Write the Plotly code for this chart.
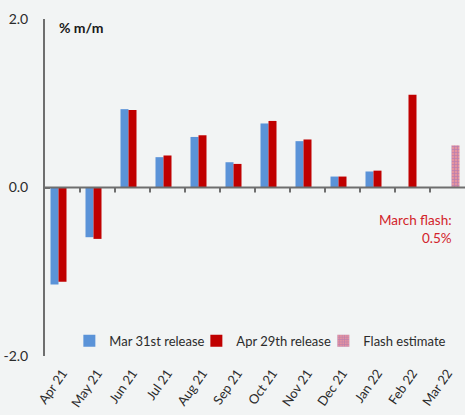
import plotly.graph_objects as go

months = ["Apr 21", "May 21", "Jun 21", "Jul 21", "Aug 21", "Sep 21",
          "Oct 21", "Nov 21", "Dec 21", "Jan 22", "Feb 22", "Mar 22"]
mar31 = [-1.15, -0.59, 0.93, 0.36, 0.60, 0.30, 0.76, 0.55, 0.13, 0.19, None, None]
apr29 = [-1.12, -0.61, 0.92, 0.38, 0.62, 0.28, 0.79, 0.57, 0.13, 0.20, 1.10, None]
flash = [None, None, None, None, None, None, None, None, None, None, None, 0.5]
y_ticks = [-2.0, 0.0, 2.0]

BG = "#F2F4F4"
TXT = "#2B2B2B"
AXIS = "#6E6E6E"
FONT = "Lato"
x_range = [-0.5, len(months) - 0.5]
y_range = [-2, 2]
tick_len = 0.06  # in data units (~5 px)

fig = go.Figure()
fig.add_trace(go.Bar(x=months, y=mar31, name="Mar 31st release",
                     marker=dict(color="#5B93D8", line=dict(width=0))))
fig.add_trace(go.Bar(x=months, y=apr29, name="Apr 29th release",
                     marker=dict(color="#C00000", line=dict(width=0))))
fig.add_trace(go.Bar(x=months, y=flash, name="Flash estimate",
                     marker=dict(color="#E4939F", line=dict(width=0),
                                 pattern=dict(shape="+", fgcolor="#8A68C0",
                                              bgcolor="#E4939F", size=3, solidity=0.4))))

# horizontal axis line at y = 0
axis_shapes = [dict(type="line", xref="paper", yref="y", x0=0, x1=1, y0=0, y1=0,
                    layer="above", line=dict(color=AXIS, width=2))]
# category-boundary tick marks hanging below the zero line
axis_shapes += [
    dict(type="line", xref="x", yref="y",
         x0=i - 0.5, x1=i - 0.5, y0=0, y1=-tick_len, layer="above",
         line=dict(color=AXIS, width=2))
    for i in range(1, len(months))
]

fig.update_layout(
    width=465, height=415,
    margin=dict(l=45, r=0, t=19, b=59),
    paper_bgcolor=BG, plot_bgcolor=BG,
    barmode="group", bargap=0.314, bargroupgap=0,
    font=dict(family=FONT, size=13, color=TXT),
    showlegend=True,
    legend=dict(orientation="h", x=0.058, xanchor="left", y=0.045, yanchor="middle",
                bgcolor="rgba(0,0,0,0)", font=dict(size=13, color=TXT),
                entrywidth=82, entrywidthmode="pixels",
                itemwidth=30, tracegroupgap=0),
    xaxis=dict(type="category", categoryorder="array", categoryarray=months,
               range=x_range,
               showline=False, ticks="", tickangle=-55, showgrid=False,
               zeroline=False, ticklabelstandoff=6,
               tickfont=dict(size=13, color=TXT)),
    yaxis=dict(range=y_range, tickvals=y_ticks, ticktext=[f"{v:.1f}" for v in y_ticks],
               showline=True, linecolor=AXIS, linewidth=2,
               ticks="inside", ticklen=5, tickwidth=2, tickcolor=AXIS,
               showgrid=False, zeroline=False,
               ticklabelstandoff=12,
               tickfont=dict(size=14, color=TXT)),
    shapes=axis_shapes,
    annotations=[
        dict(text="<b>% m/m</b>", xref="paper", yref="paper", x=0.028, y=0.975,
             xanchor="left", yanchor="middle", showarrow=False,
             font=dict(size=14, color="#1A1A1A")),
        dict(text="March flash:<br>0.5%", xref="paper", yref="paper",
             x=0.973, y=0.432, xanchor="right", yanchor="top", align="right",
             showarrow=False, font=dict(size=13.5, color="#D2232A")),
    ],
)

fig.write_html("out.html")
